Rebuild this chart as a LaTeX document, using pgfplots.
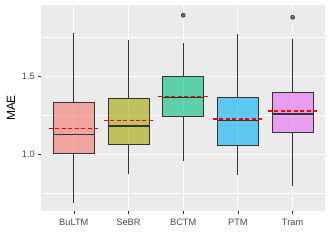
\documentclass[border=0pt]{standalone}
\usepackage{pgfplots}
\pgfplotsset{compat=1.18}
\usepgfplotslibrary{statistics}
\usepackage{fontspec}
\setmainfont{Liberation Sans}
\definecolor{bggrey}{HTML}{EBEBEB}
\definecolor{grey20}{HTML}{333333}
\definecolor{grey30}{HTML}{4D4D4D}
\definecolor{outgrey}{HTML}{666666}
\definecolor{c1}{HTML}{F8766D}
\definecolor{c2}{HTML}{A3A500}
\definecolor{c3}{HTML}{00BF7D}
\definecolor{c4}{HTML}{00B0F6}
\definecolor{c5}{HTML}{E76BF3}
\definecolor{meanred}{HTML}{FF0000}
\begin{document}
\begin{tikzpicture}
\path[use as bounding box] (-41bp,-38bp) rectangle (291bp,211bp);
\begin{axis}[
  at={(0,0)}, anchor=south west,
  scale only axis, width=284.4bp, height=206bp,
  xmin=0.4, xmax=5.6, ymin=0.635, ymax=1.955,
  axis background/.style={fill=bggrey},
  axis line style={draw=none},
  xtick={1,2,3,4,5},
  xticklabels={BuLTM,SeBR,BCTM,PTM,Tram},
  ytick={1.0,1.5},
  yticklabels={1.0,1.5},
  minor ytick={0.75,1.25,1.75},
  grid=both,
  major grid style={white, line width=0.9pt},
  minor grid style={white, line width=0.45pt},
  xtick pos=left, ytick pos=left,
  tick align=outside,
  major tick length=2.75pt, minor tick length=0pt,
  tick style={grey20, line width=0.6pt},
  ticklabel style={font=\fontsize{9.3}{11}\selectfont, text=grey30},
  xticklabel style={yshift=-1.5pt},
  ylabel={MAE},
  ylabel style={font=\fontsize{12}{14}\selectfont, text=black, yshift=0pt},
  boxplot/draw direction=y,
  boxplot/box extend=0.75,
  boxplot/whisker extend=0,
  boxplot/every median/.style={line width=1.3pt},
  boxplot/every whisker/.style={line width=0.8pt},
]
\addplot[grey20, line width=0.9pt, fill=c1, fill opacity=0.6, draw opacity=1, boxplot prepared={lower whisker=0.688, lower quartile=1.004, median=1.124, upper quartile=1.329, upper whisker=1.774, draw position=1}] coordinates {};
\addplot[grey20, line width=0.9pt, fill=c2, fill opacity=0.6, draw opacity=1, boxplot prepared={lower whisker=0.870, lower quartile=1.062, median=1.180, upper quartile=1.353, upper whisker=1.731, draw position=2}] coordinates {};
\addplot[grey20, line width=0.9pt, fill=c3, fill opacity=0.6, draw opacity=1, boxplot prepared={lower whisker=0.955, lower quartile=1.239, median=1.363, upper quartile=1.496, upper whisker=1.713, draw position=3}] coordinates {};
\addplot[grey20, line width=0.9pt, fill=c4, fill opacity=0.6, draw opacity=1, boxplot prepared={lower whisker=0.865, lower quartile=1.058, median=1.214, upper quartile=1.363, upper whisker=1.769, draw position=4}] coordinates {};
\addplot[grey20, line width=0.9pt, fill=c5, fill opacity=0.6, draw opacity=1, boxplot prepared={lower whisker=0.795, lower quartile=1.141, median=1.256, upper quartile=1.397, upper whisker=1.735, draw position=5}] coordinates {};
% outliers
\addplot[only marks, mark=*, mark size=2pt, mark options={draw=none, fill=outgrey, fill opacity=0.9}] coordinates {(3,1.889) (5,1.876)};
% means
\addplot[meanred, line width=1.2pt, dash pattern=on 4pt off 2.5pt] coordinates {(0.545,1.162) (1.455,1.162)};
\addplot[meanred, line width=1.2pt, dash pattern=on 4pt off 2.5pt] coordinates {(1.545,1.216) (2.455,1.216)};
\addplot[meanred, line width=1.2pt, dash pattern=on 4pt off 2.5pt] coordinates {(2.545,1.367) (3.455,1.367)};
\addplot[meanred, line width=1.2pt, dash pattern=on 4pt off 2.5pt] coordinates {(3.545,1.224) (4.455,1.224)};
\addplot[meanred, line width=1.2pt, dash pattern=on 4pt off 2.5pt] coordinates {(4.545,1.276) (5.455,1.276)};
\end{axis}
\end{tikzpicture}
\end{document}
